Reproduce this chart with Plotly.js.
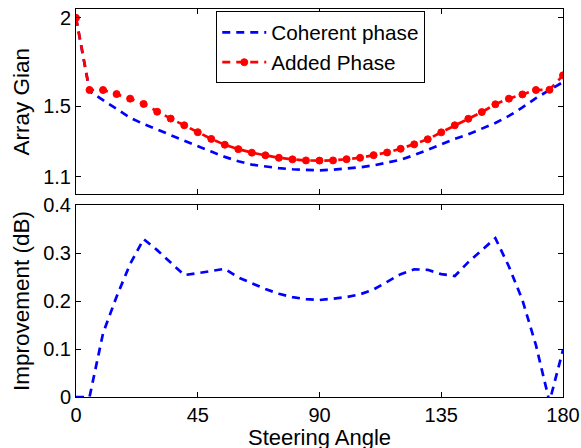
<!DOCTYPE html>
<html>
<head>
<meta charset="utf-8">
<script src="https://cdn.plot.ly/plotly-3.0.1.min.js"></script>
<style>
  html, body { margin: 0; padding: 0; background: #fff; }
  #chart { width: 581px; height: 448px; }
</style>
</head>
<body>
<div id="chart"></div>
<script>
// Steering angles (degrees)
const angles = [0, 5, 10, 15, 20, 25, 30, 35, 40, 45, 50, 55, 60, 65, 70, 75, 80, 85, 90,
                95, 100, 105, 110, 115, 120, 125, 130, 135, 140, 145, 150, 155, 160, 165, 170, 175, 180];

// Array gain with coherent phase
const coherentGain = [2.0, 1.585, 1.534, 1.485, 1.434, 1.398, 1.366, 1.334, 1.306, 1.272, 1.242,
                      1.212, 1.187, 1.168, 1.157, 1.148, 1.142, 1.139, 1.136, 1.140, 1.146, 1.153,
                      1.164, 1.179, 1.196, 1.222, 1.252, 1.285, 1.314, 1.340, 1.373, 1.404, 1.444,
                      1.492, 1.545, 1.592, 1.636];

// Array gain with added phase
const addedGain = [2.0, 1.591, 1.591, 1.568, 1.542, 1.512, 1.468, 1.429, 1.391, 1.352, 1.314,
                   1.281, 1.256, 1.236, 1.221, 1.207, 1.198, 1.192, 1.191, 1.192, 1.199, 1.207,
                   1.222, 1.237, 1.258, 1.283, 1.312, 1.351, 1.391, 1.428, 1.466, 1.510, 1.542,
                   1.566, 1.591, 1.592, 1.674];

// Improvement of added phase over coherent phase (dB)
const improvementDb = [0, 0, 0.133, 0.209, 0.277, 0.329, 0.306, 0.280, 0.254, 0.258, 0.263,
                       0.267, 0.249, 0.237, 0.225, 0.215, 0.208, 0.204, 0.202, 0.205, 0.208,
                       0.214, 0.224, 0.240, 0.256, 0.266, 0.265, 0.256, 0.252, 0.281, 0.305,
                       0.331, 0.272, 0.202, 0.108, -0.01, 0.098];

const xTicks = [0, 45, 90, 135, 180];
const gainTicks = [1.1, 1.5, 2];
const gainTickText = ['1.1', '1.5', '2'];
const impTicks = [0, 0.1, 0.2, 0.3, 0.4];
const impTickText = ['0', '0.1', '0.2', '0.3', '0.4'];
const xAxisLabel = 'Steering Angle';

const FONT = 'Liberation Sans, Arial, Helvetica, sans-serif';
const DASH = '8px,6px';

const traces = [
  {
    x: angles, y: coherentGain, xaxis: 'x2', yaxis: 'y2',
    type: 'scatter', mode: 'lines', name: 'Coherent phase',
    line: { color: '#0000ff', width: 2.7, dash: DASH }
  },
  {
    x: angles, y: addedGain, xaxis: 'x2', yaxis: 'y2',
    type: 'scatter', mode: 'lines+markers', name: 'Added Phase',
    line: { color: '#ff0000', width: 2.7, dash: DASH },
    marker: { symbol: 'circle', size: 7, color: '#ff0000', line: { color: '#ff0000', width: 1 } }
  },
  {
    x: angles, y: improvementDb, xaxis: 'x', yaxis: 'y',
    type: 'scatter', mode: 'lines', showlegend: false,
    line: { color: '#0000ff', width: 2.7, dash: DASH }
  }
];

const axisCommon = {
  showline: true, linecolor: '#000', linewidth: 1, mirror: 'ticks',
  ticks: 'inside', ticklen: 5, tickwidth: 1, tickcolor: '#000',
  showgrid: false, zeroline: false, fixedrange: true,
  tickfont: { family: FONT, size: 20, color: '#000' }
};

const layout = {
  width: 581, height: 448,
  margin: { l: 76, r: 18, t: 9, b: 51 },
  paper_bgcolor: '#fff', plot_bgcolor: '#fff',
  font: { family: FONT, size: 20, color: '#000' },
  showlegend: true,
  legend: {
    x: 0.288, y: 0.994, xanchor: 'left', yanchor: 'top',
    bgcolor: '#fff', bordercolor: '#000', borderwidth: 1,
    font: { family: FONT, size: 20.7, color: '#000' },
    itemwidth: 44, tracegroupgap: 0
  },
  xaxis: Object.assign({}, axisCommon, {
    domain: [0, 1], anchor: 'y', range: [0, 180],
    tickvals: xTicks, ticktext: xTicks.map(String)
  }),
  yaxis: Object.assign({}, axisCommon, {
    domain: [0, 0.4948], anchor: 'x', range: [0, 0.4],
    tickvals: impTicks, ticktext: impTickText,
    title: { text: 'Improvement (dB)', font: { family: FONT, size: 22.5, color: '#000' }, standoff: 7 }
  }),
  xaxis2: Object.assign({}, axisCommon, {
    domain: [0, 1], anchor: 'y2', range: [0, 180],
    tickvals: xTicks, showticklabels: false
  }),
  yaxis2: Object.assign({}, axisCommon, {
    domain: [0.5224, 1], anchor: 'x2', range: [1.0, 2.05],
    tickvals: gainTicks, ticktext: gainTickText,
    title: { text: 'Array Gian', font: { family: FONT, size: 22.5, color: '#000' }, standoff: 7 }
  }),
  // x-axis label of the lower panel, set just under the tick labels
  annotations: [{
    text: xAxisLabel, xref: 'paper', yref: 'paper',
    x: 0.5, y: -0.1035, xanchor: 'center', yanchor: 'middle',
    showarrow: false,
    font: { family: FONT, size: 22, color: '#000' }
  }]
};

Plotly.newPlot('chart', traces, layout, { displayModeBar: false, staticPlot: true });
</script>
</body>
</html>
